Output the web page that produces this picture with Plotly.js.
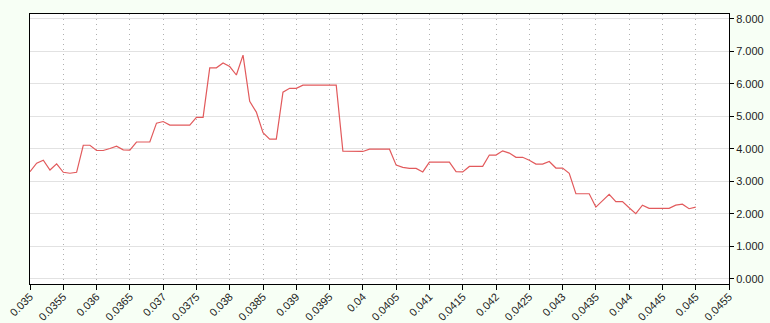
<!DOCTYPE html>
<html>
<head>
<meta charset="utf-8">
<script src="https://cdn.plot.ly/plotly-3.0.1.min.js"></script>
<style>
  html, body { margin: 0; padding: 0; background: #f7fff5; }
  #chart { width: 770px; height: 323px; }
</style>
</head>
<body>
<div id="chart"></div>
<script>
const xValues = [
  0.0350, 0.0351, 0.0352, 0.0353, 0.0354, 0.0355, 0.0356, 0.0357, 0.0358, 0.0359,
  0.0360, 0.0361, 0.0362, 0.0363, 0.0364, 0.0365, 0.0366, 0.0367, 0.0368, 0.0369,
  0.0370, 0.0371, 0.0372, 0.0373, 0.0374, 0.0375, 0.0376, 0.0377, 0.0378, 0.0379,
  0.0380, 0.0381, 0.0382, 0.0383, 0.0384, 0.0385, 0.0386, 0.0387, 0.0388, 0.0389,
  0.0390, 0.0391, 0.0392, 0.0393, 0.0394, 0.0395, 0.0396, 0.0397, 0.0398, 0.0399,
  0.0400, 0.0401, 0.0402, 0.0403, 0.0404, 0.0405, 0.0406, 0.0407, 0.0408, 0.0409,
  0.0410, 0.0411, 0.0412, 0.0413, 0.0414, 0.0415, 0.0416, 0.0417, 0.0418, 0.0419,
  0.0420, 0.0421, 0.0422, 0.0423, 0.0424, 0.0425, 0.0426, 0.0427, 0.0428, 0.0429,
  0.0430, 0.0431, 0.0432, 0.0433, 0.0434, 0.0435, 0.0436, 0.0437, 0.0438, 0.0439,
  0.0440, 0.0441, 0.0442, 0.0443, 0.0444, 0.0445, 0.0446, 0.0447, 0.0448, 0.0449,
  0.0450
];
const yValues = [
  3.30, 3.56, 3.65, 3.35, 3.54, 3.28, 3.25, 3.28, 4.11, 4.11,
  3.95, 3.95, 4.01, 4.08, 3.97, 3.96, 4.21, 4.21, 4.21, 4.79,
  4.84, 4.73, 4.73, 4.73, 4.73, 4.97, 4.97, 6.49, 6.49, 6.64,
  6.53, 6.27, 6.88, 5.46, 5.13, 4.50, 4.30, 4.30, 5.74, 5.86,
  5.86, 5.96, 5.96, 5.96, 5.96, 5.96, 5.96, 3.93, 3.93, 3.91,
  3.92, 3.99, 3.99, 3.99, 3.99, 3.50, 3.43, 3.40, 3.40, 3.29,
  3.59, 3.59, 3.59, 3.59, 3.30, 3.29, 3.46, 3.46, 3.46, 3.81,
  3.81, 3.94, 3.87, 3.74, 3.74, 3.65, 3.53, 3.53, 3.61, 3.41,
  3.41, 3.25, 2.62, 2.62, 2.62, 2.21, 2.41, 2.60, 2.38, 2.38,
  2.19, 2.01, 2.27, 2.17, 2.17, 2.17, 2.17, 2.27, 2.30, 2.16,
  2.21
];
const xTickVals = [0.035, 0.0355, 0.036, 0.0365, 0.037, 0.0375, 0.038, 0.0385, 0.039, 0.0395,
  0.04, 0.0405, 0.041, 0.0415, 0.042, 0.0425, 0.043, 0.0435, 0.044, 0.0445, 0.045, 0.0455];
const xTickText = ["0.035", "0.0355", "0.036", "0.0365", "0.037", "0.0375", "0.038", "0.0385", "0.039", "0.0395",
  "0.04", "0.0405", "0.041", "0.0415", "0.042", "0.0425", "0.043", "0.0435", "0.044", "0.0445", "0.045", "0.0455"];
const yTickVals = [0, 1, 2, 3, 4, 5, 6, 7, 8];
const yTickText = ["0.000", "1.000", "2.000", "3.000", "4.000", "5.000", "6.000", "7.000", "8.000"];

const trace = {
  x: xValues,
  y: yValues,
  type: 'scatter',
  mode: 'lines',
  line: { color: '#e25a5c', width: 1.2 },
  hoverinfo: 'x+y'
};

const layout = {
  width: 770,
  height: 323,
  margin: { l: 30, r: 41, t: 14, b: 39, pad: 0 },
  paper_bgcolor: '#f7fff5',
  plot_bgcolor: '#ffffff',
  showlegend: false,
  font: { family: 'Liberation Sans, Arial, sans-serif', size: 11, color: '#222' },
  xaxis: {
    range: [0.035, 0.0455],
    tickmode: 'array',
    tickvals: xTickVals,
    ticktext: xTickText,
    tickangle: -45,
    ticks: 'outside',
    ticklen: 5,
    tickcolor: '#000',
    ticklabelstandoff: -4,
    showline: true,
    linecolor: '#000',
    linewidth: 1,
    mirror: true,
    showgrid: true,
    gridcolor: '#b0b0b0',
    gridwidth: 1,
    griddash: '1px,4px',
    zeroline: false
  },
  yaxis: {
    side: 'right',
    range: [-0.154, 8.145],
    tickmode: 'array',
    tickvals: yTickVals,
    ticktext: yTickText,
    ticks: 'outside',
    ticklen: 4,
    tickcolor: '#000',
    showline: true,
    linecolor: '#000',
    linewidth: 1,
    mirror: true,
    showgrid: true,
    gridcolor: '#e2e2e2',
    gridwidth: 1,
    zeroline: false
  }
};

Plotly.newPlot('chart', [trace], layout, { displayModeBar: false, staticPlot: true });
</script>
</body>
</html>
